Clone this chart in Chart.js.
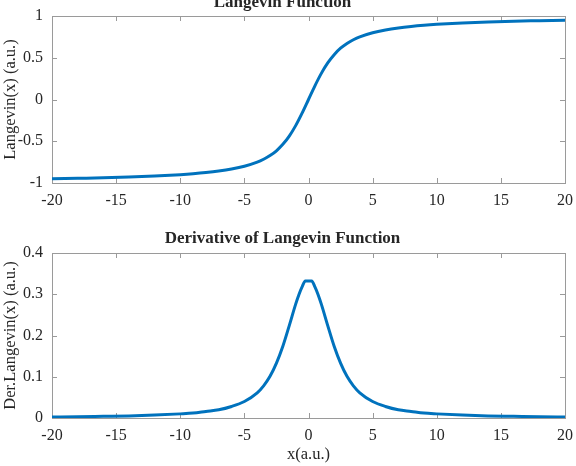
<!DOCTYPE html>
<html>
<head>
<meta charset="utf-8">
<script src="https://cdn.jsdelivr.net/npm/chart.js@4/dist/chart.umd.min.js"></script>
<style>
  html, body { margin: 0; padding: 0; background: #fff; overflow: hidden; }
  body { width: 576px; height: 466px; position: relative; }
  .box { position: absolute; left: 0; width: 576px; }
  #topBox { top: -30px; height: 250px; }
  #botBox { top: 200px; height: 266px; }
</style>
</head>
<body>
<div class="box" id="topBox"><canvas id="langChart"></canvas></div>
<div class="box" id="botBox"><canvas id="derChart"></canvas></div>
<script>
// x positions
const xValues = [-20, -18, -16, -14, -12, -10, -9, -8, -7, -6, -5, -4, -3.5, -3, -2.5, -2, -1.5, -1, -0.5, 0,
                 0.5, 1, 1.5, 2, 2.5, 3, 3.5, 4, 5, 6, 7, 8, 9, 10, 12, 14, 16, 18, 20];
const langevin = [-0.950, -0.944, -0.938, -0.929, -0.917, -0.900, -0.889, -0.875, -0.857, -0.833, -0.800, -0.751,
                  -0.716, -0.672, -0.614, -0.537, -0.438, -0.313, -0.164, 0,
                  0.164, 0.313, 0.438, 0.537, 0.614, 0.672, 0.716, 0.751, 0.800, 0.833, 0.857, 0.875, 0.889,
                  0.900, 0.917, 0.929, 0.938, 0.944, 0.950];

const xDer = [-20, -18, -16, -14, -12, -10, -9, -8, -7, -6, -5, -4, -3.5, -3, -2.5, -2, -1.5, -1, -0.75, -0.5, -0.25,
              0.25, 0.5, 0.75, 1, 1.5, 2, 2.5, 3, 3.5, 4, 5, 6, 7, 8, 9, 10, 12, 14, 16, 18, 20];
const derLangevin = [0.0025, 0.003, 0.004, 0.005, 0.007, 0.010, 0.012, 0.016, 0.020, 0.028, 0.040, 0.061, 0.078,
                     0.101, 0.133, 0.174, 0.224, 0.276, 0.299, 0.318, 0.332,
                     0.332, 0.318, 0.299, 0.276, 0.224, 0.174, 0.133, 0.101, 0.078, 0.061, 0.040, 0.028, 0.020,
                     0.016, 0.012, 0.010, 0.007, 0.005, 0.004, 0.003, 0.0025];

const xTicks = [-20, -15, -10, -5, 0, 5, 10, 15, 20];
const yTicksTop = [-1, -0.5, 0, 0.5, 1];
const yTicksBot = [0, 0.1, 0.2, 0.3, 0.4];

const lineColor = '#0072BD';
const textColor = '#262626';
const axisColor = '#9a9a9a';
const fontFamily = "'Liberation Serif', 'DejaVu Serif', serif";

// MATLAB style box with inward ticks
const boxPlugin = {
    id: 'matlabBox',
    beforeDatasetsDraw(chart) {
        const { ctx, chartArea: a, scales } = chart;
        ctx.save();
        ctx.strokeStyle = axisColor;
        ctx.lineWidth = 1;
        ctx.strokeRect(a.left + 0.5, a.top + 0.5, a.right - a.left, a.bottom - a.top);
        const len = 5;
        ctx.beginPath();
        scales.x.ticks.forEach(t => {
            const px = Math.round(scales.x.getPixelForValue(t.value)) + 0.5;
            ctx.moveTo(px, a.bottom); ctx.lineTo(px, a.bottom - len);
            ctx.moveTo(px, a.top); ctx.lineTo(px, a.top + len);
        });
        scales.y.ticks.forEach(t => {
            const py = Math.round(scales.y.getPixelForValue(t.value)) + 0.5;
            ctx.moveTo(a.left, py); ctx.lineTo(a.left + len, py);
            ctx.moveTo(a.right, py); ctx.lineTo(a.right - len, py);
        });
        ctx.stroke();
        ctx.restore();
    }
};

function makeChart(id, xs, ys, opts) {
    const ctx = document.getElementById(id).getContext('2d');
    return new Chart(ctx, {
        type: 'line',
        data: {
            datasets: [{
                data: xs.map((x, i) => ({ x: x, y: ys[i] })),
                borderColor: lineColor,
                borderWidth: 3,
                pointRadius: 0,
                cubicInterpolationMode: 'monotone',
                fill: false
            }]
        },
        options: {
            responsive: true,
            maintainAspectRatio: false,
            animation: false,
            layout: { padding: { left: 0, right: 11, top: 0, bottom: 0 } },
            plugins: {
                legend: { display: false },
                tooltip: { enabled: false },
                title: {
                    display: true,
                    text: opts.title,
                    color: textColor,
                    font: { family: fontFamily, size: 17, weight: 'bold' },
                    padding: opts.titlePad
                }
            },
            scales: {
                x: {
                    type: 'linear',
                    min: -20, max: 20,
                    afterBuildTicks: s => { s.ticks = xTicks.map(v => ({ value: v })); },
                    afterFit: s => { s.height = opts.xHeight; s.paddingLeft = 0; s.paddingRight = 0; },
                    grid: { display: false, drawTicks: false },
                    border: { display: false },
                    ticks: { color: textColor, padding: 8, maxRotation: 0,
                             callback: v => String(v),
                             font: { family: fontFamily, size: 16 } },
                    title: opts.xTitle ? {
                        display: true, text: opts.xTitle, color: textColor,
                        font: { family: fontFamily, size: 16.5 }, padding: { top: 0, bottom: 1 }
                    } : { display: false }
                },
                y: {
                    min: opts.yMin, max: opts.yMax,
                    afterBuildTicks: s => { s.ticks = opts.yTicks.map(v => ({ value: v })); },
                    afterFit: s => { s.width = 52; },
                    grid: { display: false, drawTicks: false },
                    border: { display: false },
                    ticks: { color: textColor, padding: 9,
                             callback: v => String(v),
                             font: { family: fontFamily, size: 16 } },
                    title: {
                        display: true, text: opts.yTitle, color: textColor,
                        font: { family: fontFamily, size: 16.5 }, padding: { top: 1, bottom: 0 }
                    }
                }
            }
        },
        plugins: [boxPlugin]
    });
}

makeChart('langChart', xValues, langevin, {
    title: 'Langevin Function',
    titlePad: { top: 22, bottom: 3.6 },
    xHeight: 37,
    yMin: -1, yMax: 1, yTicks: yTicksTop,
    yTitle: 'Langevin(x) (a.u.)'
});

makeChart('derChart', xDer, derLangevin, {
    title: 'Derivative of Langevin Function',
    titlePad: { top: 28, bottom: 4.6 },
    xHeight: 48,
    xTitle: 'x(a.u.)',
    yMin: 0, yMax: 0.4, yTicks: yTicksBot,
    yTitle: 'Der.Langevin(x) (a.u.)'
});
</script>
</body>
</html>
